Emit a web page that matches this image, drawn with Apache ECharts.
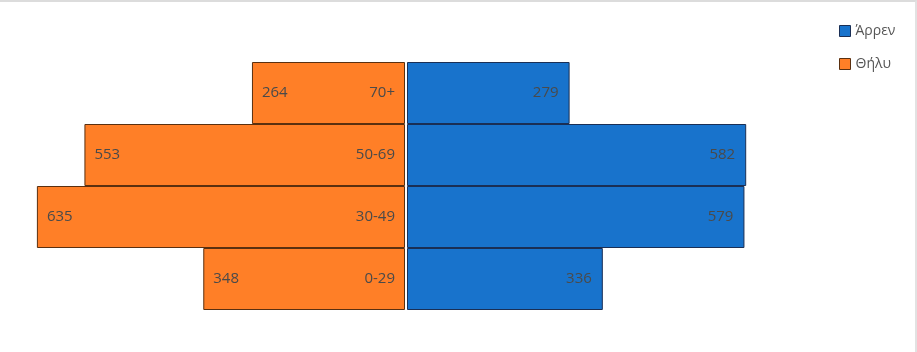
<!DOCTYPE html>
<html>
<head>
<meta charset="utf-8">
<script src="https://cdn.jsdelivr.net/npm/echarts@6/dist/echarts.min.js"></script>
<style>
  html, body { margin: 0; padding: 0; background: #fff; }
  #wrap { width: 917px; height: 352px; box-sizing: border-box; border-top: 2px solid #dcdcdc; border-right: 2px solid #e2e2e2; }
  #chart { width: 915px; height: 350px; }
</style>
</head>
<body>
<div id="wrap"><div id="chart"></div></div>
<script>
// ηλικιακές ομάδες, από κάτω προς τα πάνω
const ageGroups = ['0-29', '30-49', '50-69', '70+'];
const female = [348, 635, 553, 264];   // Θήλυ
const male = [336, 579, 582, 279];     // Άρρεν
const axisMax = 640;

const chart = echarts.init(document.getElementById('chart'));

const labelStyle = {
    show: true,
    color: '#4a4a4a',
    fontSize: 15,
    fontFamily: 'Open Sans'
};

chart.setOption({
    animation: false,
    textStyle: { fontFamily: 'Open Sans' },
    legend: {
        orient: 'vertical',
        left: 834,
        top: 17,
        itemWidth: 11,
        itemHeight: 11,
        itemGap: 19,
        icon: 'rect',
        textStyle: { color: '#555', fontSize: 14 },
        data: [
            { name: 'Άρρεν', itemStyle: { borderColor: '#1a2f55', borderWidth: 1 } },
            { name: 'Θήλυ', itemStyle: { borderColor: '#5a3010', borderWidth: 1 } }
        ]
    },
    grid: [
        { left: 34, width: 371, top: 60, height: 248 },
        { left: 407, width: 373, top: 60, height: 248 }
    ],
    xAxis: [
        { gridIndex: 0, type: 'value', min: 0, max: axisMax, inverse: true, show: false },
        { gridIndex: 1, type: 'value', min: 0, max: axisMax, show: false }
    ],
    yAxis: [
        {
            gridIndex: 0, type: 'category', data: ageGroups, position: 'right',
            axisLine: { show: false }, axisTick: { show: false },
            axisLabel: { inside: true, margin: 10, color: '#4a4a4a', fontSize: 15 },
            z: 10
        },
        {
            gridIndex: 1, type: 'category', data: ageGroups,
            axisLine: { show: false }, axisTick: { show: false }, axisLabel: { show: false }
        }
    ],
    series: [
        {
            name: 'Άρρεν',
            type: 'bar',
            xAxisIndex: 1,
            yAxisIndex: 1,
            data: male,
            barCategoryGap: 0,
            itemStyle: { color: '#1873cc', borderColor: '#1a2f55', borderWidth: 1 },
            label: Object.assign({ position: 'insideRight', distance: 11 }, labelStyle)
        },
        {
            name: 'Θήλυ',
            type: 'bar',
            xAxisIndex: 0,
            yAxisIndex: 0,
            data: female,
            barCategoryGap: 0,
            itemStyle: { color: '#ff7f27', borderColor: '#5a3010', borderWidth: 1 },
            label: Object.assign({ position: 'insideLeft', distance: 10 }, labelStyle)
        }
    ]
});
</script>
</body>
</html>
